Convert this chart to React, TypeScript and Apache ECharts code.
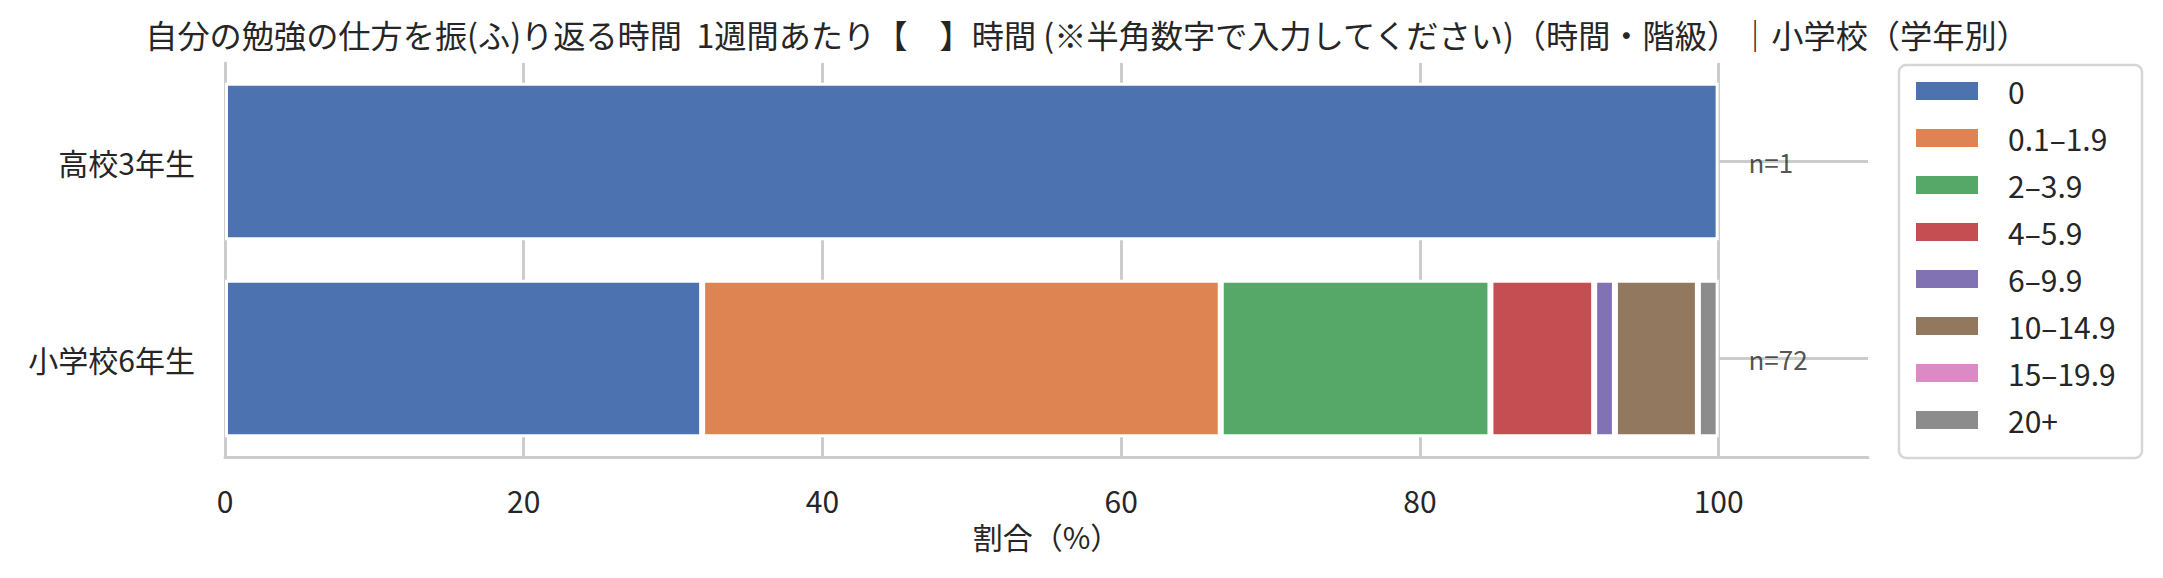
import React, { useEffect, useRef } from 'react';
import * as echarts from 'echarts';

const categories = ['高校3年生', '小学校6年生'];
const bins = ['0', '0.1–1.9', '2–3.9', '4–5.9', '6–9.9', '10–14.9', '15–19.9', '20+'];
const countsHigh3 = [1, 0, 0, 0, 0, 0, 0, 0];
const countsElem6 = [23, 25, 13, 5, 1, 4, 0, 1];
const nValues = [1, 72];
const colors = ['#4C72B0', '#DD8452', '#55A868', '#C44E52', '#8172B3', '#937860', '#DA8BC3', '#8C8C8C'];
const titleText =
  '自分の勉強の仕方を振(ふ)り返る時間  1週間あたり【　】時間 (※半角数字で入力してください)（時間・階級）｜小学校（学年別）';
const xAxisName = '割合（%）';

const FONT = '"Noto Sans CJK JP", "Noto Sans", sans-serif';
const TEXT = '#262626';
const GRID = '#cccccc';

export default function App() {
  const ref = useRef<HTMLDivElement>(null);
  useEffect(() => {
    if (!ref.current) return;
    const chart = echarts.init(ref.current, undefined, { renderer: 'svg' });
    const rows = [countsHigh3, countsElem6];
    const pct = rows.map((r, i) => r.map((c) => (c > 0 ? (c / nValues[i]) * 100 : '-')));

    const barSeries = bins.map((b, j) => ({
      type: 'bar',
      name: b,
      stack: 'total',
      barWidth: '80%',
      data: pct.map((r) => r[j]),
      itemStyle: { color: colors[j], borderColor: '#ffffff', borderWidth: 3 },
      emphasis: { disabled: true },
      silent: true,
    }));

    const option: any = {
      animation: false,
      textStyle: { fontFamily: FONT },
      title: {
        text: titleText,
        left: 1082,
        textAlign: 'center',
        top: 13,
        textStyle: { fontSize: 32.2, fontWeight: 'normal', color: TEXT, fontFamily: FONT },
      },
      grid: { left: 225, right: 295, top: 63, bottom: 121, containLabel: false },
      xAxis: {
        type: 'value',
        min: 0,
        max: 110,
        interval: 20,
        axisLine: { show: true, lineStyle: { color: GRID, width: 3 } },
        axisTick: { show: false },
        axisLabel: { fontSize: 30, color: TEXT, margin: 28, showMaxLabel: false, fontFamily: FONT },
        splitLine: {
          show: true,
          lineStyle: { color: [GRID, GRID, GRID, GRID, GRID, GRID, 'rgba(0,0,0,0)'], width: 3 },
        },
        name: xAxisName,
        nameLocation: 'middle',
        nameGap: 64,
        nameTextStyle: { fontSize: 30, color: TEXT, fontFamily: FONT },
      },
      yAxis: {
        type: 'category',
        data: categories,
        inverse: true,
        axisLine: { show: true, lineStyle: { color: GRID, width: 3 } },
        axisTick: { show: false },
        axisLabel: { fontSize: 30, color: TEXT, margin: 30, fontFamily: FONT },
        splitLine: { show: false },
      },
      legend: {
        data: bins,
        orient: 'vertical',
        left: 1914,
        top: 76,
        padding: 0,
        itemWidth: 64,
        itemHeight: 20,
        itemGap: 17,
        icon: 'rect',
        selectedMode: false,
        z: 10,
        textStyle: { fontSize: 30, color: TEXT, fontFamily: FONT, padding: [0, 0, 0, 24] },
      },
      graphic: [
        {
          type: 'rect',
          z: 1,
          shape: { x: 1899, y: 65, width: 243, height: 393, r: 7 },
          style: { fill: '#ffffff', stroke: '#d6d6d6', lineWidth: 2.5 },
          silent: true,
        },
      ],
      series: [
        ...barSeries,
        {
          type: 'scatter',
          name: 'n',
          data: categories.map((c) => [102, c]),
          symbolSize: 0,
          z: 10,
          silent: true,
          label: {
            show: true,
            position: 'right',
            distance: 0,
            formatter: (p: any) => 'n=' + nValues[p.dataIndex],
            fontSize: 26,
            color: TEXT,
            fontFamily: FONT,
          },
          markLine: {
            silent: true,
            symbol: 'none',
            label: { show: false },
            lineStyle: { color: GRID, width: 3, type: 'solid' },
            data: categories.map((c) => [{ coord: [100, c] }, { coord: [110, c] }]),
          },
        },
      ],
    };
    chart.setOption(option);
    return () => chart.dispose();
  }, []);
  return (
    <div
      ref={ref}
      style={{ position: 'fixed', left: 0, top: 0, width: 2163, height: 578, background: '#ffffff' }}
    />
  );
}
